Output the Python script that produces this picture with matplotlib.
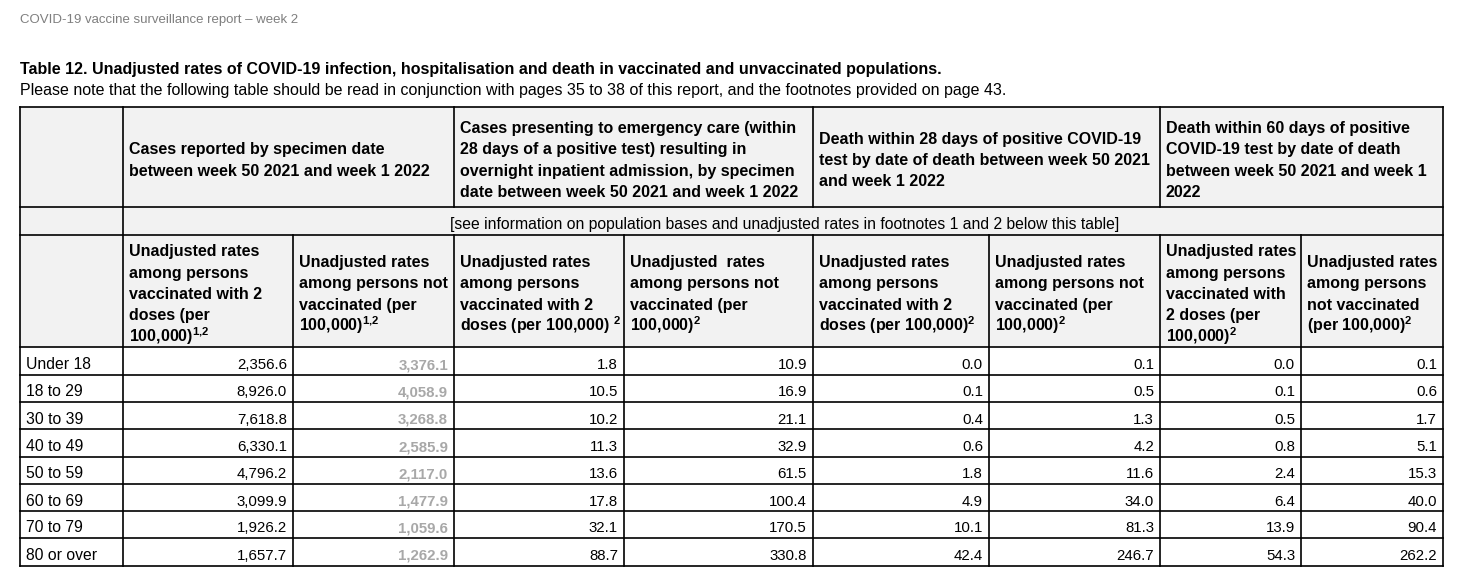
import matplotlib
matplotlib.use("Agg")
import matplotlib.pyplot as plt
from matplotlib.patches import Rectangle

plt.rcParams['font.family'] = ['Liberation Sans', 'DejaVu Sans']
plt.rcParams['mathtext.fontset'] = 'custom'
plt.rcParams['mathtext.rm'] = 'Liberation Sans'
plt.rcParams['mathtext.bf'] = 'Liberation Sans:bold'
plt.rcParams['mathtext.it'] = 'Liberation Sans:italic'

# data
age_groups = ["Under 18", "18 to 29", "30 to 39", "40 to 49", "50 to 59",
              "60 to 69", "70 to 79", "80 or over"]
cases_vacc = [2356.6, 8926.0, 7618.8, 6330.1, 4796.2, 3099.9, 1926.2, 1657.7]
cases_unvacc = [3376.1, 4058.9, 3268.8, 2585.9, 2117.0, 1477.9, 1059.6, 1262.9]
hosp_vacc = [1.8, 10.5, 10.2, 11.3, 13.6, 17.8, 32.1, 88.7]
hosp_unvacc = [10.9, 16.9, 21.1, 32.9, 61.5, 100.4, 170.5, 330.8]
death28_vacc = [0.0, 0.1, 0.4, 0.6, 1.8, 4.9, 10.1, 42.4]
death28_unvacc = [0.1, 0.5, 1.3, 4.2, 11.6, 34.0, 81.3, 246.7]
death60_vacc = [0.0, 0.1, 0.5, 0.8, 2.4, 6.4, 13.9, 54.3]
death60_unvacc = [0.1, 0.6, 1.7, 5.1, 15.3, 40.0, 90.4, 262.2]

group_headers = [
    ["Cases reported by specimen date", "between week 50 2021 and week 1 2022"],
    ["Cases presenting to emergency care (within", "28 days of a positive test) resulting in",
     "overnight inpatient admission, by specimen", "date between week 50 2021 and week 1 2022"],
    ["Death within 28 days of positive COVID-19", "test by date of death between week 50 2021",
     "and week 1 2022"],
    ["Death within 60 days of positive", "COVID-19 test by date of death",
     "between week 50 2021 and week 1", "2022"],
]
sup12 = r"$^{\mathbf{1{,}2}}$"
sup2 = r"$^{\mathbf{2}}$"
sub_headers = [
    ["Unadjusted rates", "among persons", "vaccinated with 2", "doses (per", "100,000)" + sup12],
    ["Unadjusted rates", "among persons not", "vaccinated (per", "100,000)" + sup12],
    ["Unadjusted rates", "among persons", "vaccinated with 2", "doses (per 100,000) " + sup2],
    ["Unadjusted  rates", "among persons not", "vaccinated (per", "100,000)" + sup2],
    ["Unadjusted rates", "among persons", "vaccinated with 2", "doses (per 100,000)" + sup2],
    ["Unadjusted rates", "among persons not", "vaccinated (per", "100,000)" + sup2],
    ["Unadjusted rates", "among persons", "vaccinated with", "2 doses (per", "100,000)" + sup2],
    ["Unadjusted rates", "among persons", "not vaccinated", "(per 100,000)" + sup2],
]
info_text = "[see information on population bases and unadjusted rates in footnotes 1 and 2 below this table]"
page_header = "COVID-19 vaccine surveillance report \u2013 week 2"
title = "Table 12. Unadjusted rates of COVID-19 infection, hospitalisation and death in vaccinated and unvaccinated populations."
subtitle = "Please note that the following table should be read in conjunction with pages 35 to 38 of this report, and the footnotes provided on page 43."

# layout (pixels)
W, H = 1459, 574
col_x = [20, 123, 293, 454, 624, 813, 989, 1160, 1301, 1443]
row_y = [107, 207, 235, 347, 375, 402, 429, 457, 484, 511, 538, 566]
PX = 72 / 100
FS_HEAD = 16 * PX
FS_INFO = 15.8 * PX
FS_LABEL = 15.7 * PX
FS_NUM = 15 * PX
LH = 21.3
HEAD_BG = "#f2f2f2"

fig = plt.figure(figsize=(W / 100, H / 100), dpi=100)
ax = fig.add_axes([0, 0, 1, 1])
ax.set_xlim(0, W)
ax.set_ylim(H, 0)
ax.axis("off")


def lines_in_cell(x, y0, y1, lines, ha="left", fs=FS_HEAD, **kw):
    n = len(lines)
    mid = (y0 + y1) / 2 + 8
    for i, s in enumerate(lines):
        y = mid + (i - (n - 1) / 2) * LH
        ax.text(x, y, s, ha=ha, va="baseline", fontsize=fs, family="Liberation Sans", **kw)


# background fills for header rows
ax.add_patch(Rectangle((col_x[0], row_y[0]), col_x[-1] - col_x[0], row_y[3] - row_y[0],
                       facecolor=HEAD_BG, edgecolor="none"))

# grid lines
lw = 1.2
for y in row_y:
    ax.plot([col_x[0], col_x[-1]], [y, y], color="black", lw=lw, solid_capstyle="projecting")
ax.plot([col_x[0]] * 2, [row_y[0], row_y[-1]], color="black", lw=lw)
ax.plot([col_x[-1]] * 2, [row_y[0], row_y[-1]], color="black", lw=lw)
ax.plot([col_x[1]] * 2, [row_y[0], row_y[-1]], color="black", lw=lw)
for j in range(2, 9):
    if j % 2 == 1:
        # group boundary also splits the top header row
        ax.plot([col_x[j]] * 2, [row_y[0], row_y[1]], color="black", lw=lw)
    ax.plot([col_x[j]] * 2, [row_y[2], row_y[-1]], color="black", lw=lw)

# texts above table
ax.text(20, 23, page_header, fontsize=13.3 * PX, color="#7f7f7f", va="baseline")
ax.text(20, 74, title, fontsize=FS_HEAD, fontweight="bold", va="baseline")
ax.text(20, 95, subtitle, fontsize=FS_HEAD, va="baseline")

# group headers
for g, lines in enumerate(group_headers):
    lines_in_cell(col_x[1 + 2 * g] + 6, row_y[0], row_y[1], lines, fontweight="bold")

# info row
lines_in_cell((col_x[1] + col_x[-1]) / 2 + 2, row_y[1], row_y[2], [info_text], ha="center", fs=FS_INFO)

# sub headers
for j, lines in enumerate(sub_headers):
    lines_in_cell(col_x[1 + j] + 6, row_y[2], row_y[3], lines, fontweight="bold")

# data rows
series = [cases_vacc, cases_unvacc, hosp_vacc, hosp_unvacc,
          death28_vacc, death28_unvacc, death60_vacc, death60_unvacc]
for i, age in enumerate(age_groups):
    y0, y1 = row_y[3 + i], row_y[4 + i]
    lines_in_cell(col_x[0] + 6, y0, y1, [age], fs=FS_LABEL)
    for j, vals in enumerate(series):
        if j == 1:
            kw = dict(color="#a8a8a8", fontweight="bold")
        else:
            kw = dict(color="black")
        lines_in_cell(col_x[2 + j] - 6, y0, y1, [f"{vals[i]:,.1f}"], ha="right", fs=FS_NUM, **kw)

fig.savefig("out.png", dpi=100, facecolor="white")
